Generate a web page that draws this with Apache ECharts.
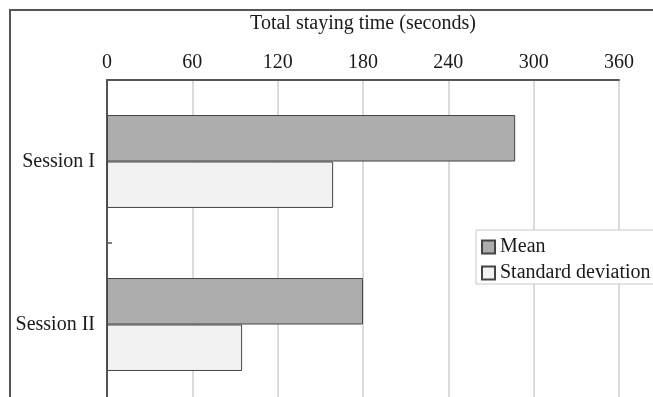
<!DOCTYPE html>
<html>
<head>
<meta charset="utf-8">
<script src="https://cdn.jsdelivr.net/npm/echarts@6/dist/echarts.min.js"></script>
<style>html,body{margin:0;padding:0;background:#fff;overflow:hidden;}#c{width:653px;height:420px;}</style>
</head>
<body>
<div id="c"></div>
<script>
const categories = ["Session I", "Session II"];
const meanValues = [287, 180];
const sdValues = [159, 95];
const xTicks = { min: 0, max: 360, interval: 60 };
const seriesNames = ["Mean", "Standard deviation"];
const axisTitle = "Total staying time (seconds)";

const FONT = "'Liberation Serif', 'Times New Roman', serif";
const chart = echarts.init(document.getElementById('c'), null, { renderer: 'canvas' });
chart.setOption({
  animation: false,
  backgroundColor: '#ffffff',
  graphic: [{
    type: 'rect', z: 100,
    shape: { x: 10, y: 10, width: 700, height: 500 },
    style: { fill: 'none', stroke: '#555', lineWidth: 2 }
  }],
  grid: { left: 107, top: 80, width: 512, height: 326 },
  xAxis: {
    type: 'value', position: 'top',
    min: xTicks.min, max: xTicks.max, interval: xTicks.interval,
    name: axisTitle, nameLocation: 'middle', nameGap: 46,
    nameTextStyle: { fontFamily: FONT, fontSize: 20, color: '#1a1a1a' },
    axisLine: { show: true, lineStyle: { color: '#555', width: 2 } },
    axisTick: { show: false },
    axisLabel: { fontFamily: FONT, fontSize: 20, color: '#1a1a1a', margin: 7 },
    splitLine: { show: true, lineStyle: { color: '#cfcfcf', width: 1.5 } }
  },
  yAxis: {
    type: 'category', inverse: true, data: categories,
    axisLine: { show: true, lineStyle: { color: '#555', width: 2 } },
    axisTick: { show: true, inside: true, length: 5, lineStyle: { color: '#555', width: 1.5 } },
    axisLabel: { fontFamily: FONT, fontSize: 20, color: '#1a1a1a', margin: 12 },
    splitLine: { show: false }
  },
  legend: {
    orient: 'vertical', left: 476, top: 230,
    data: seriesNames,
    icon: 'rect', itemWidth: 13, itemHeight: 13, itemGap: 6,
    padding: [7, 30, 1, 5],
    backgroundColor: '#ffffff', borderColor: '#c8c8c8', borderWidth: 1,
    textStyle: { fontFamily: FONT, fontSize: 20, color: '#1a1a1a' }
  },
  series: [
    {
      name: seriesNames[0], type: 'bar', data: meanValues,
      barGap: '0%', barCategoryGap: '43%',
      itemStyle: { color: '#adadad', borderColor: '#444', borderWidth: 1 }
    },
    {
      name: seriesNames[1], type: 'bar', data: sdValues,
      barGap: '0%', barCategoryGap: '43%',
      itemStyle: { color: '#f2f2f2', borderColor: '#444', borderWidth: 1 }
    }
  ]
});
</script>
</body>
</html>
